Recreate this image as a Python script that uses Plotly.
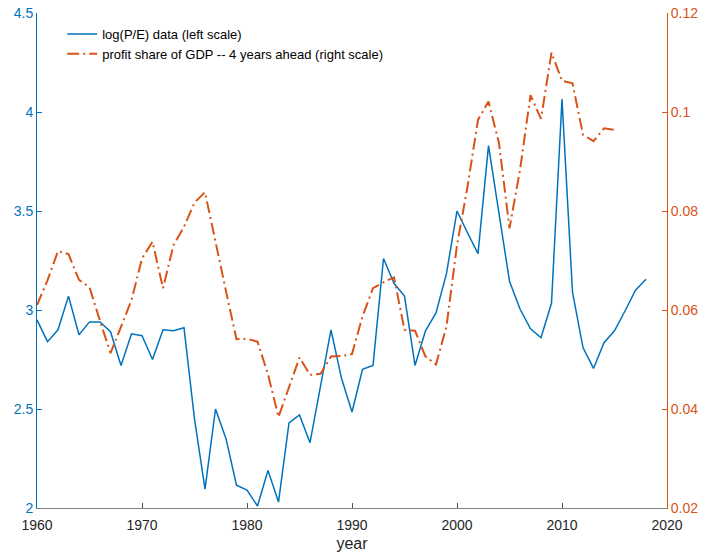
import plotly.graph_objects as go

years_pe = list(range(1960, 2019))
log_pe = [2.95, 2.84, 2.90, 3.07, 2.875, 2.94, 2.94, 2.89, 2.72, 2.88,
          2.87, 2.75, 2.90, 2.895, 2.91, 2.45, 2.095, 2.50, 2.35, 2.115,
          2.09, 2.01, 2.19, 2.03, 2.43, 2.47, 2.33, 2.62, 2.90, 2.655,
          2.485, 2.70, 2.72, 3.26, 3.135, 3.07, 2.72, 2.895, 2.985, 3.185,
          3.50, 3.39, 3.285, 3.83, 3.48, 3.145, 3.005, 2.905, 2.86, 3.035,
          4.065, 3.09, 2.81, 2.705, 2.835, 2.895, 2.995, 3.10, 3.155]

years_ps = list(range(1960, 2016))
profit_share = [0.061, 0.066, 0.0719, 0.0713, 0.0661, 0.0646, 0.0578, 0.0513, 0.0566, 0.062,
                0.0704, 0.0738, 0.0644, 0.0731, 0.0768, 0.0817, 0.0838, 0.0735, 0.0638, 0.0541,
                0.0542, 0.0536, 0.047, 0.0384, 0.0444, 0.0504, 0.0469, 0.0471, 0.0506, 0.0507,
                0.0511, 0.0587, 0.0644, 0.0656, 0.0666, 0.0560, 0.0558, 0.0506, 0.0490, 0.0567,
                0.0731, 0.0849, 0.0984, 0.1021, 0.0937, 0.0765, 0.0883, 0.1034, 0.0986, 0.1120,
                0.1063, 0.1058, 0.0954, 0.0941, 0.0967, 0.0964]

left_ticks = [2, 2.5, 3, 3.5, 4, 4.5]
right_ticks = [0.02, 0.04, 0.06, 0.08, 0.1, 0.12]
x_ticks = [1960, 1970, 1980, 1990, 2000, 2010, 2020]

BLUE = "#0072BD"
ORANGE = "#D95319"
FONT = "Liberation Sans, Arial, sans-serif"

fig = go.Figure()
fig.add_trace(go.Scatter(x=years_pe, y=log_pe, mode="lines",
                         name="log(P/E) data (left scale)",
                         line=dict(color=BLUE, width=1.5)))
fig.add_trace(go.Scatter(x=years_ps, y=profit_share, mode="lines",
                         name="profit share of GDP -- 4 years ahead (right scale)",
                         line=dict(color=ORANGE, width=2, dash="12px,4px,2px,4px"),
                         yaxis="y2"))

fig.update_layout(
    width=701, height=557,
    margin=dict(l=37, r=34, t=13, b=49),
    paper_bgcolor="white", plot_bgcolor="white",
    font=dict(family=FONT, size=14, color="#262626"),
    showlegend=True,
    legend=dict(x=0.04, y=0.988, xanchor="left", yanchor="top",
                bgcolor="rgba(0,0,0,0)", font=dict(size=13, color="#000000"),
                tracegroupgap=0, itemwidth=30),
    xaxis=dict(range=[1960, 2020], tickvals=x_ticks,
               ticks="inside", ticklen=5, tickcolor="#555555",
               showline=True, linecolor="#808080", linewidth=1,
               showgrid=False, zeroline=False, automargin=False,
               ticklabelstandoff=4, ticklabeloverflow="allow",
               tickfont=dict(color="#262626", size=14),
               title=dict(text="year", font=dict(size=16, color="#262626"), standoff=6)),
    yaxis=dict(range=[2, 4.5], tickvals=left_ticks,
               ticktext=[f"{v:g}" for v in left_ticks],
               ticks="inside", ticklen=5, tickcolor=BLUE,
               showline=True, linecolor=BLUE, linewidth=1,
               showgrid=False, zeroline=False, automargin=False,
               ticklabeloverflow="allow",
               tickfont=dict(color=BLUE, size=14)),
    yaxis2=dict(range=[0.02, 0.12], tickvals=right_ticks,
                ticktext=[f"{v:g}" for v in right_ticks],
                overlaying="y", side="right",
                ticks="inside", ticklen=5, tickcolor=ORANGE,
                showline=True, linecolor=ORANGE, linewidth=1,
                showgrid=False, zeroline=False, automargin=False,
                ticklabeloverflow="allow",
                tickfont=dict(color=ORANGE, size=14)),
)

# remove the browser's default 8px body margin so the figure fills the window
fig.write_html("out.html",
               config={"displayModeBar": False},
               post_script="document.body.style.margin='0';document.body.style.overflow='hidden';")
